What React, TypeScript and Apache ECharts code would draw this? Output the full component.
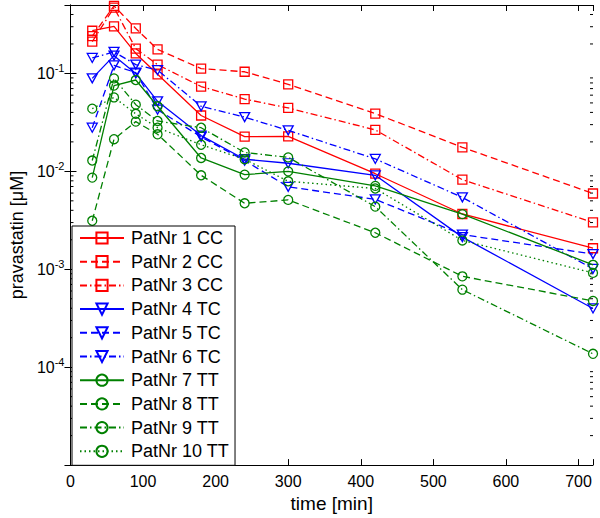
import React, { useEffect, useRef } from 'react';
import * as echarts from 'echarts';

const times = [30, 60, 90, 120, 180, 240, 300, 420, 540, 720];

const pat1 = [0.273, 0.302, 0.160, 0.098, 0.0372, 0.0226, 0.0228, 0.00946, 0.00367, 0.00164];
const pat2 = [0.240, 0.49, 0.288, 0.176, 0.112, 0.104, 0.0775, 0.0389, 0.0176, 0.00594];
const pat3 = [0.211, 0.47, 0.179, 0.123, 0.0735, 0.0547, 0.0444, 0.0265, 0.00822, 0.00301];
const pat4 = [0.0891, 0.152, 0.100, 0.0519, 0.0232, 0.0133, 0.0121, 0.00912, 0.00213, 0.000398];
const pat5 = [0.0279, 0.121, 0.102, 0.0426, 0.0225, 0.0129, 0.00695, 0.00518, 0.00226, 0.00143];
const pat6 = [0.144, 0.166, 0.123, 0.108, 0.0462, 0.0358, 0.0262, 0.0134, 0.00542, 0.00101];
const pat7 = [0.00863, 0.0752, 0.0857, 0.0462, 0.0137, 0.00925, 0.0100, 0.00711, 0.00366, 0.00111];
const pat8 = [0.00313, 0.0213, 0.0322, 0.0239, 0.00912, 0.00472, 0.00511, 0.00236, 0.000847, 0.000475];
const pat9 = [0.0129, 0.0891, 0.0480, 0.0327, 0.0279, 0.0156, 0.0139, 0.00436, 0.000619, 0.000137];
const pat10 = [0.0437, 0.0569, 0.0387, 0.0279, 0.0187, 0.0133, 0.00792, 0.00668, 0.00197, 0.000918];

const seriesNames = [
  'PatNr 1 CC', 'PatNr 2 CC', 'PatNr 3 CC',
  'PatNr 4 TC', 'PatNr 5 TC', 'PatNr 6 TC',
  'PatNr 7 TT', 'PatNr 8 TT', 'PatNr 9 TT', 'PatNr 10 TT',
];
const seriesValues = [pat1, pat2, pat3, pat4, pat5, pat6, pat7, pat8, pat9, pat10];

const minorTickValues = [
  2e-5, 3e-5, 4e-5, 5e-5, 6e-5, 7e-5, 8e-5, 9e-5,
  2e-4, 3e-4, 4e-4, 5e-4, 6e-4, 7e-4, 8e-4, 9e-4,
  2e-3, 3e-3, 4e-3, 5e-3, 6e-3, 7e-3, 8e-3, 9e-3,
  2e-2, 3e-2, 4e-2, 5e-2, 6e-2, 7e-2, 8e-2, 9e-2,
  2e-1, 3e-1, 4e-1,
];
const labelledExponents = [-1, -2, -3, -4];

const RED = '#ff0000';
const BLUE = '#0000ff';
const GREEN = '#008000';
const FONT = '"Liberation Sans", Arial, Helvetica, sans-serif';

const DASHED = [7, 4];
const DASHDOT = [7, 3, 1.5, 3];
const DOTTED = [1.5, 3];

const styles = [
  { color: RED, dash: 'solid', marker: 'rect' },
  { color: RED, dash: DASHED, marker: 'rect' },
  { color: RED, dash: DASHDOT, marker: 'rect' },
  { color: BLUE, dash: 'solid', marker: 'tri' },
  { color: BLUE, dash: DASHED, marker: 'tri' },
  { color: BLUE, dash: DASHDOT, marker: 'tri' },
  { color: GREEN, dash: 'solid', marker: 'circle' },
  { color: GREEN, dash: DASHED, marker: 'circle' },
  { color: GREEN, dash: DASHDOT, marker: 'circle' },
  { color: GREEN, dash: DOTTED, marker: 'circle' },
];

const TRI = 'path://M0,0L10,0L5,9Z';

export default function App() {
  const ref = useRef<HTMLDivElement>(null);
  useEffect(() => {
    if (!ref.current) return;
    const chart = echarts.init(ref.current, undefined, { renderer: 'svg' });

    const lineSeries = seriesNames.map((name, k) => {
      const st = styles[k];
      return {
        type: 'line',
        name,
        data: times.map((t, i) => [t, seriesValues[k][i]]),
        symbol: st.marker === 'tri' ? TRI : st.marker,
        symbolSize: st.marker === 'tri' ? [10, 9] : 9,
        showSymbol: true,
        showAllSymbol: true,
        lineStyle: { color: st.color, width: 1.3, type: st.dash },
        itemStyle: { color: 'rgba(255,255,255,0)', borderColor: st.color, borderWidth: 1.3 },
        emphasis: { disabled: true },
        z: 2 + k * 0.01,
      };
    });

    const minorSeries = {
      type: 'custom',
      name: 'minor',
      silent: true,
      data: minorTickValues.map((v) => [0, v]),
      encode: { x: 0, y: 1 },
      clip: false,
      renderItem: (params: any, api: any) => {
        const v = api.value(1);
        const p = api.coord([0, v]);
        const q = api.coord([720, v]);
        return {
          type: 'group',
          children: [
            { type: 'line', shape: { x1: p[0], y1: p[1], x2: p[0] + 3, y2: p[1] }, style: { stroke: '#000', lineWidth: 1 } },
            { type: 'line', shape: { x1: q[0], y1: q[1], x2: q[0] - 3, y2: q[1] }, style: { stroke: '#000', lineWidth: 1 } },
          ],
        };
      },
      z: 1,
    };

    const yLabel = (v: number) => {
      const l = Math.log10(v);
      const e = Math.round(l);
      if (Math.abs(l - e) > 1e-6) return '';
      if (labelledExponents.indexOf(e) < 0) return '';
      return `{b|10}{s|${e}}`;
    };

    chart.setOption({
      animation: false,
      textStyle: { fontFamily: FONT },
      grid: { left: 62, right: 7, top: 5, bottom: 46, containLabel: false },
      xAxis: [
        {
          type: 'value', min: 0, max: 720, interval: 100,
          name: 'time [min]', nameLocation: 'middle', nameGap: 25,
          nameTextStyle: { fontSize: 19, color: '#000', fontFamily: FONT },
          axisLine: { show: true, lineStyle: { color: '#000', width: 1 } },
          axisTick: { show: true, inside: true, length: 6, lineStyle: { color: '#000' } },
          axisLabel: { color: '#000', fontSize: 16, margin: 8, fontFamily: FONT,
            formatter: (v: number) => (v % 100 === 0 ? String(v) : '') },
          splitLine: { show: false },
        },
        {
          type: 'value', min: 0, max: 720, interval: 100, position: 'top',
          axisLine: { show: true, lineStyle: { color: '#000', width: 1 } },
          axisTick: { show: true, inside: true, length: 6, lineStyle: { color: '#000' } },
          axisLabel: { show: false },
          splitLine: { show: false },
        },
      ],
      yAxis: [
        {
          type: 'log', logBase: 10, min: 1e-5, max: 0.5,
          name: 'pravastatin [μM]', nameLocation: 'middle', nameGap: 38,
          nameTextStyle: { fontSize: 18, color: '#000', fontFamily: FONT },
          axisLine: { show: true, lineStyle: { color: '#000', width: 1 } },
          axisTick: { show: true, inside: true, length: 6, lineStyle: { color: '#000' } },
          axisLabel: {
            color: '#000', margin: 6, formatter: yLabel,
            rich: {
              b: { fontSize: 16, color: '#000', lineHeight: 22, fontFamily: FONT },
              s: { fontSize: 11, color: '#000', verticalAlign: 'top', lineHeight: 12, fontFamily: FONT },
            },
          },
          splitLine: { show: false },
        },
        {
          type: 'log', logBase: 10, min: 1e-5, max: 0.5, position: 'right',
          axisLine: { show: true, lineStyle: { color: '#000', width: 1 } },
          axisTick: { show: true, inside: true, length: 6, lineStyle: { color: '#000' } },
          axisLabel: { show: false },
          splitLine: { show: false },
        },
      ],
      legend: {
        orient: 'vertical', left: 72, top: 226,
        data: seriesNames,
        itemWidth: 44, itemHeight: 14, itemGap: 5.7,
        padding: [3, 6, 5, 7],
        backgroundColor: '#ffffff', borderColor: '#000', borderWidth: 1, borderRadius: 0,
        textStyle: { fontSize: 18, color: '#000', padding: [0, 0, 0, 2], fontFamily: FONT },
        selectedMode: false,
        z: 10,
      },
      series: [minorSeries, ...lineSeries],
    });
    return () => chart.dispose();
  }, []);
  return <div ref={ref} style={{ position: 'fixed', left: 0, top: 0, width: 600, height: 518, background: '#fff' }} />;
}
